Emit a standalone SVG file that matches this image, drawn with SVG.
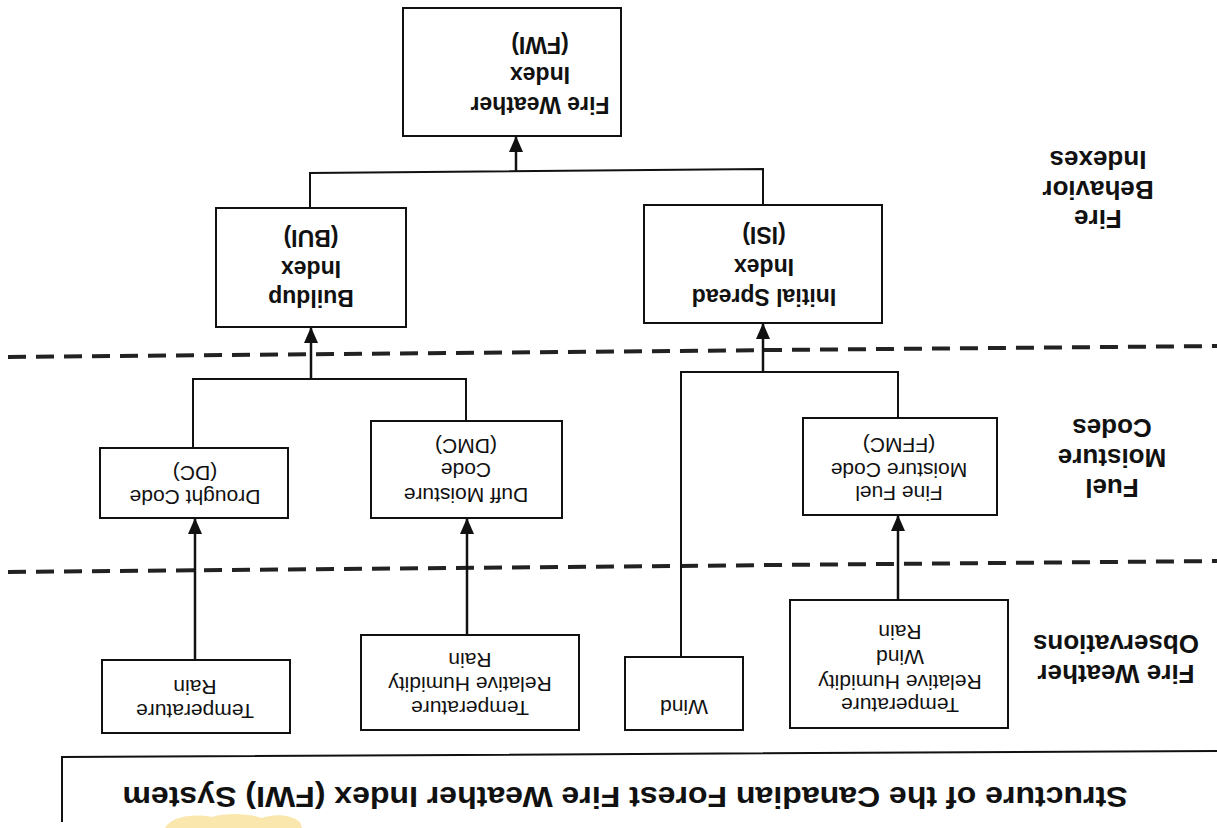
<svg xmlns="http://www.w3.org/2000/svg" width="1217" height="828" viewBox="0 0 1217 828">
<style>
.box{fill:#fff;stroke:#111;stroke-width:2}
.ln{fill:none;stroke:#111;stroke-width:2}
.ar{fill:none;stroke:#111;stroke-width:2.5}
.dash{fill:none;stroke:#222;stroke-width:4;stroke-dasharray:18 10}
text{font-family:"Liberation Sans",Arial,sans-serif;text-anchor:middle;dominant-baseline:central;fill:#111}
.hb{font-weight:bold;font-size:23px}
.lb{font-weight:bold;font-size:26px}
.sm{font-size:21px}
.tt{font-weight:bold;font-size:30px}
</style>
<defs>
<marker id="ah" viewBox="0 0 16 14" refX="16" refY="7" markerWidth="16" markerHeight="14" markerUnits="userSpaceOnUse" orient="auto">
<path d="M0,0 L16,7 L0,14 z" fill="#111"/>
</marker>
</defs>
<rect width="1217" height="828" fill="#fff"/>

<g id="separators">
<line class="dash" x1="8" y1="357" x2="1217" y2="346"/>
<line class="dash" x1="8" y1="572" x2="1217" y2="561"/>
<path class="ln" d="M62,822 V757 L1217,751"/>
</g>

<g id="connectors">
<path class="ln" d="M310,208 V173 L763,169 V205"/>
<line class="ar" x1="516" y1="171" x2="516" y2="136" marker-end="url(#ah)"/>
<path class="ln" d="M193,448 V379 H466 V421"/>
<line class="ar" x1="311" y1="379" x2="311" y2="327" marker-end="url(#ah)"/>
<path class="ln" d="M681,657 V372 H898 V418"/>
<line class="ar" x1="763" y1="372" x2="763" y2="323" marker-end="url(#ah)"/>
<line class="ar" x1="195" y1="660" x2="195" y2="518" marker-end="url(#ah)"/>
<line class="ar" x1="467" y1="635" x2="467" y2="518" marker-end="url(#ah)"/>
<line class="ar" x1="898" y1="600" x2="898" y2="515" marker-end="url(#ah)"/>
</g>

<g id="fwi">
<rect class="box" x="403" y="8" width="218" height="128"/>
<text class="hb" x="540" y="45" transform="rotate(180 540 45)">(FWI)</text>
<text class="hb" x="540" y="75" transform="rotate(180 540 75)">Index</text>
<text class="hb" x="540" y="105" transform="rotate(180 540 105)">Fire Weather</text>
</g>

<g id="bui">
<rect class="box" x="216" y="208" width="190" height="119"/>
<text class="hb" x="311" y="238" transform="rotate(180 311 238)">(BUI)</text>
<text class="hb" x="311" y="269" transform="rotate(180 311 269)">Index</text>
<text class="hb" x="311" y="298" transform="rotate(180 311 298)">Buildup</text>
</g>

<g id="isi">
<rect class="box" x="644" y="205" width="238" height="118"/>
<text class="hb" x="764" y="235" transform="rotate(180 764 235)">(ISI)</text>
<text class="hb" x="764" y="267" transform="rotate(180 764 267)">Index</text>
<text class="hb" x="764" y="297" transform="rotate(180 764 297)">Initial Spread</text>
</g>

<g id="dc">
<rect class="box" x="100" y="448" width="188" height="70"/>
<text class="sm" x="195" y="473" transform="rotate(180 195 473)">(DC)</text>
<text class="sm" x="195" y="497" transform="rotate(180 195 497)">Drought Code</text>
</g>

<g id="dmc">
<rect class="box" x="371" y="421" width="191" height="97"/>
<text class="sm" x="466" y="446" transform="rotate(180 466 446)">(DMC)</text>
<text class="sm" x="466" y="470" transform="rotate(180 466 470)">Code</text>
<text class="sm" x="466" y="495" transform="rotate(180 466 495)">Duff Moisture</text>
</g>

<g id="ffmc">
<rect class="box" x="803" y="418" width="194" height="97"/>
<text class="sm" x="899" y="445" transform="rotate(180 899 445)">(FFMC)</text>
<text class="sm" x="899" y="470" transform="rotate(180 899 470)">Moisture Code</text>
<text class="sm" x="899" y="493" transform="rotate(180 899 493)">Fine Fuel</text>
</g>

<g id="obs-dc">
<rect class="box" x="102" y="660" width="188" height="73"/>
<text class="sm" x="195" y="687" transform="rotate(180 195 687)">Rain</text>
<text class="sm" x="195" y="711" transform="rotate(180 195 711)">Temperature</text>
</g>

<g id="obs-dmc">
<rect class="box" x="361" y="635" width="218" height="95"/>
<text class="sm" x="470" y="660" transform="rotate(180 470 660)">Rain</text>
<text class="sm" x="470" y="684" transform="rotate(180 470 684)">Relative Humidity</text>
<text class="sm" x="470" y="708" transform="rotate(180 470 708)">Temperature</text>
</g>

<g id="obs-wind">
<rect class="box" x="625" y="657" width="118" height="73"/>
<text class="sm" x="684" y="707" transform="rotate(180 684 707)">Wind</text>
</g>

<g id="obs-ffmc">
<rect class="box" x="790" y="600" width="218" height="128"/>
<text class="sm" x="900" y="632" transform="rotate(180 900 632)">Rain</text>
<text class="sm" x="900" y="657" transform="rotate(180 900 657)">Wind</text>
<text class="sm" x="900" y="682" transform="rotate(180 900 682)">Relative Humidity</text>
<text class="sm" x="900" y="705" transform="rotate(180 900 705)">Temperature</text>
</g>

<g id="labels">
<text class="lb" x="1098" y="160" transform="rotate(180 1098 160)">Indexes</text>
<text class="lb" x="1098" y="190" transform="rotate(180 1098 190)">Behavior</text>
<text class="lb" x="1098" y="219" transform="rotate(180 1098 219)">Fire</text>
<text class="lb" x="1112" y="428" transform="rotate(180 1112 428)">Codes</text>
<text class="lb" x="1112" y="458" transform="rotate(180 1112 458)">Moisture</text>
<text class="lb" x="1112" y="488" transform="rotate(180 1112 488)">Fuel</text>
<text class="lb" x="1116" y="644" transform="rotate(180 1116 644)">Observations</text>
<text class="lb" x="1116" y="674" transform="rotate(180 1116 674)">Fire Weather</text>
</g>

<g id="title">
<path d="M165,828 C170,818 190,813 212,817 C228,812 250,814 262,818 C275,813 292,815 300,822 L302,828 Z" fill="#f6d36a" opacity="0.55"/>
<text class="tt" x="625" y="797" textLength="1005" lengthAdjust="spacingAndGlyphs" transform="rotate(180 625 797)">Structure of the Canadian Forest Fire Weather Index (FWI) System</text>
</g>
</svg>
